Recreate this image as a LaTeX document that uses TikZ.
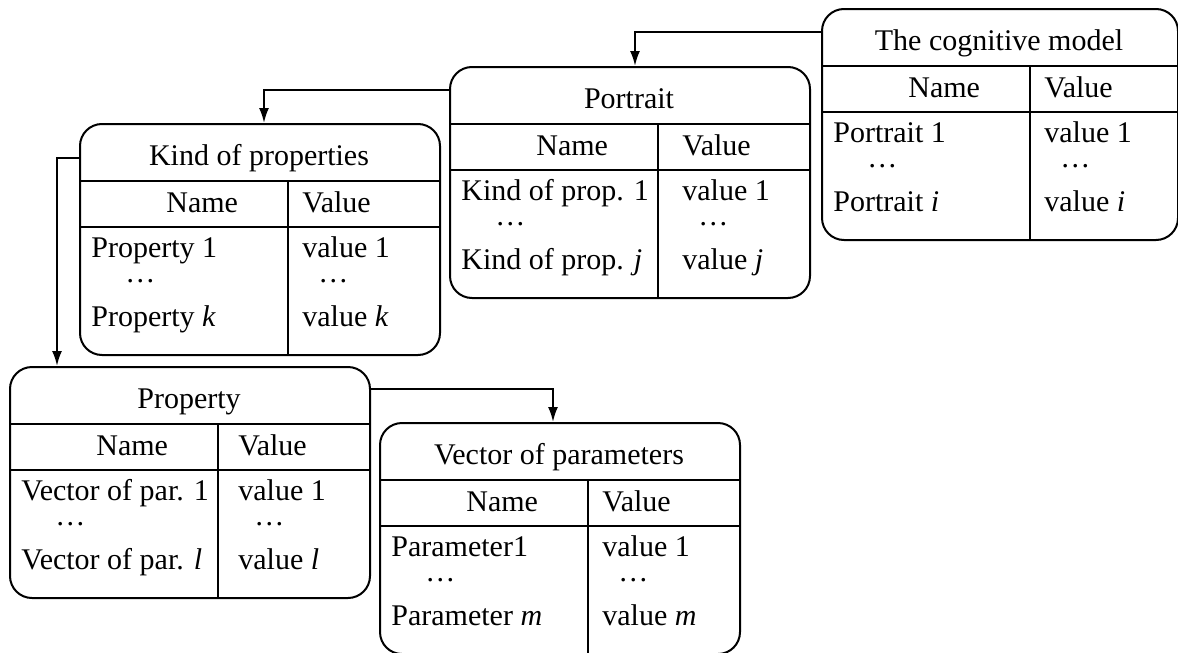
\documentclass[tikz,border=0pt]{standalone}
\usepackage{fontspec}
\setmainfont{Liberation Serif}
\usetikzlibrary{calc, arrows.meta}

\begin{document}
\begin{tikzpicture}[x=0.5pt, y=-0.5pt,
		tbox/.style={draw, line width=1pt, rounded corners=11pt, inner sep=0pt,
			minimum height=115.5pt, anchor=north west},
		rule/.style={line width=1pt},
		txt/.style={anchor=base west, inner sep=0pt, font=\fontsize{15}{18}\selectfont},
		arr/.style={line width=1pt, -{Latex[length=7.5pt,width=5pt]}}]
	\useasboundingbox (0,0) rectangle (1178,653);
	% one table per box: name/left/top/width/value offset/title/rows
	\foreach \nm/\x/\y/\w/\v/\ttl/\ra/\rb/\va/\vb in {%
			cog/821/8/356/14/The cognitive model/Portrait 1/Portrait \textit{i}/value 1/value \textit{i},%
			portrait/449/66/360/24/Portrait/Kind of prop. 1/Kind of prop. \textit{j}/value 1/value \textit{j},%
			kind/79/123/360/14/Kind of properties/Property 1/Property \textit{k}/value 1/value \textit{k},%
			property/9/366/360/20/Property/Vector of par. 1/Vector of par. \textit{l}/value 1/value \textit{l},%
			vector/379/422/360/14/Vector of parameters/Parameter1/Parameter \textit{m}/value 1/value \textit{m}%
		}
		{
			\node[tbox, minimum width={\w*0.5pt}] (\nm) at (\x,\y) {};
			\draw[rule] (\x,\y+58) -- ++(\w,0);
			\draw[rule] (\x,\y+104) -- ++(\w,0);
			\draw[rule] (\x+209,\y+58) -- (\x+209,\y+231);
			\node[txt, anchor=base] (\nm-title) at (\x+\w/2,\y+42) {\ttl};
			\node[txt] (\nm-name) at (\x+87,\y+89) {Name};
			\node[txt] (\nm-value) at (\x+209+\v,\y+89) {Value};
			\node[txt] (\nm-ra) at (\x+12,\y+134) {\ra};
			\node[txt] (\nm-da) at (\x+46,\y+159) {\dots};
			\node[txt] (\nm-rb) at (\x+12,\y+203) {\rb};
			\node[txt] (\nm-va) at (\x+209+\v,\y+134) {\va};
			\node[txt] (\nm-dv) at (\x+225+\v,\y+159) {\dots};
			\node[txt] (\nm-vb) at (\x+209+\v,\y+203) {\vb};
		}
	% links between the tables
	\draw[arr] ($(cog.north west)+(0,24)$) -| ($(portrait.north west)+(186,0)$);
	\draw[arr] ($(portrait.north west)+(0,24)$) -| ($(kind.north west)+(185,0)$);
	\draw[arr] ($(kind.north west)+(0,35)$) -| ($(property.north west)+(48,0)$);
	\draw[arr] ($(property.north east)+(0,23)$) -| ($(vector.north west)+(174,0)$);
\end{tikzpicture}
\end{document}
